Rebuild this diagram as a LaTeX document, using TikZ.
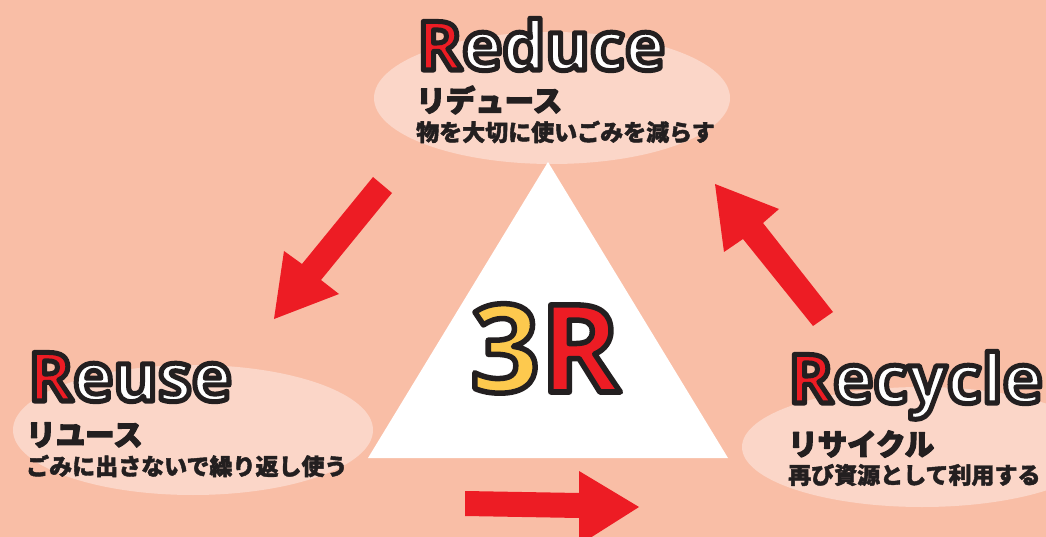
\documentclass[tikz,border=0pt]{standalone}
\usepackage{fontspec}
\setmainfont{Open Sans}
\newfontfamily\latinfont{Open Sans}
\newfontfamily\jpfont{Noto Sans CJK JP}
\definecolor{bgsalmon}{HTML}{F9BEA6}
\definecolor{lightpink}{HTML}{FBD6C8}
\definecolor{myred}{HTML}{ED1C24}
\definecolor{myyellow}{HTML}{FDC94E}
\definecolor{inkblack}{HTML}{231F20}
% outlined text: fill with colour #2, stroke in dark ink (text render mode 2)
\newcommand{\outl}[3][5]{\textcolor{#2}{\special{pdf:code 2 Tr #1 w 1 j 0.137 0.122 0.125 RG}#3\special{pdf:code 0 Tr}}}
% heavier text: fill and stroke in the same colour
\newcommand{\heavy}[2]{\special{pdf:code 2 Tr #1 w 1 j 0.137 0.122 0.125 RG}#2\special{pdf:code 0 Tr}}
\tikzset{
  bigword/.style={inner sep=0pt, anchor=base west, font=\latinfont\bfseries\fontsize{68}{68}\selectfont},
  jptitle/.style={inner sep=0pt, anchor=west, text=inkblack, font=\jpfont\bfseries\fontsize{29.5}{29.5}\selectfont},
  jpsub/.style={inner sep=0pt, anchor=west, text=inkblack, font=\jpfont\bfseries\fontsize{23}{23}\selectfont},
  blockarrow/.style={fill=myred}
}
\begin{document}
\begin{tikzpicture}[x=1pt,y=-1pt]
\useasboundingbox (0,0) rectangle (1046,537);
\fill[bgsalmon] (0,0) rectangle (1046,537);
% ellipses
\fill[lightpink] (552,98) ellipse [x radius=178, y radius=66];
\fill[lightpink] (193,430) ellipse [x radius=180, y radius=65];
\fill[lightpink] (922,447) ellipse [x radius=180, y radius=60];
% triangle
\fill[white] (548,162) -- (728,458) -- (368,458) -- cycle;
% arrows
\begin{scope}
\clip (0,0) rectangle (1046,537);
\fill[blockarrow] (373,177) -- (392,193) -- (321,280) -- (339,294) -- (274,319) -- (284,251) -- (302,264) -- cycle;
\fill[blockarrow] (715,184) -- (779,209) -- (763,223) -- (833,312) -- (813,326) -- (743,239) -- (724,252) -- cycle;
\fill[blockarrow] (465,491) -- (579,493) -- (579,471) -- (639,507) -- (579,545) -- (579,518) -- (465,516) -- cycle;
\end{scope}
% Reduce
\node[bigword] (reduceT) at (417,70) {\outl{myred}{R}\outl{white}{educe}};
\node[jptitle] (reduceJ) at (416,100) {\heavy{1.2}{リデュース}};
\node[jpsub] (reduceS) at (416,132) {\heavy{0.4}{物を大切に使いごみを減らす}};
% Reuse
\node[bigword] (reuseT) at (28,401) {\outl{myred}{R}\outl{white}{euse}};
\node[jptitle] (reuseJ) at (26,435) {\heavy{1.2}{リユース}};
\node[jpsub] (reuseS) at (26,466) {\heavy{0.4}{ごみに出さないで繰り返し使う}};
% Recycle
\node[bigword] (recycleT) at (788,403) {\outl{myred}{R}\outl{white}{ecycle}};
\node[jptitle] (recycleJ) at (788,444) {\heavy{1.2}{リサイクル}};
\node[jpsub] (recycleS) at (788,475) {\heavy{0.4}{再び資源として利用する}};
% 3R
\node[inner sep=0pt, anchor=base west, font=\latinfont\bfseries\fontsize{122}{122}\selectfont] (threeR) at (470,392) {\outl[5.5]{myyellow}{3}\outl[5.5]{myred}{R}};
\end{tikzpicture}
\end{document}
